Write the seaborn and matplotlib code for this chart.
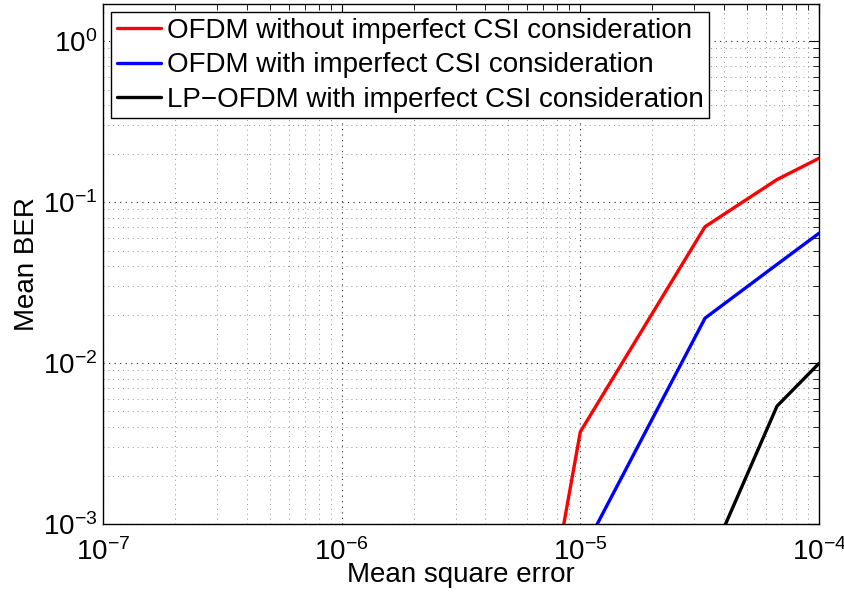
import numpy as np
import pandas as pd
import matplotlib
matplotlib.use("Agg")
import matplotlib.pyplot as plt
import seaborn as sns
from matplotlib.ticker import LogLocator, NullFormatter

# Mean square error of the channel estimate
mse = [1e-6, 1e-5, 3.33e-5, 6.67e-5, 1e-4]

# Mean BER for each scheme
ber_ofdm_no_csi = [2e-11, 3.74e-3, 0.0703, 0.138, 0.187]
ber_ofdm_csi = [1e-12, 6.3e-4, 0.019, 0.041, 0.064]
ber_lpofdm_csi = [1e-12, 1e-12, 5.1e-4, 5.4e-3, 9.95e-3]

labels = [
    "OFDM without imperfect CSI consideration",
    "OFDM with imperfect CSI consideration",
    "LP\u2212OFDM with imperfect CSI consideration",
]
colors = ["#ff0000", "#0000ff", "#000000"]

df = pd.concat([
    pd.DataFrame({"mse": mse, "ber": vals, "scheme": lab})
    for vals, lab in zip([ber_ofdm_no_csi, ber_ofdm_csi, ber_lpofdm_csi], labels)
])

sns.set_style("white")
plt.rcParams["font.family"] = ["Liberation Sans", "DejaVu Sans"]
plt.rcParams["mathtext.fontset"] = "custom"
plt.rcParams["mathtext.rm"] = "Liberation Sans"
plt.rcParams["mathtext.it"] = "Liberation Sans"
plt.rcParams["text.color"] = "black"
plt.rcParams["axes.labelcolor"] = "black"
plt.rcParams["xtick.color"] = "black"
plt.rcParams["ytick.color"] = "black"

fig = plt.figure(figsize=(8.45, 5.98), dpi=100)
ax = fig.add_axes([103 / 845, 1 - 524 / 598, (819 - 103) / 845, (524 - 4) / 598])

sns.lineplot(data=df, x="mse", y="ber", hue="scheme", palette=colors,
             hue_order=labels, linewidth=2.4, ax=ax, sort=False)

ax.set_xscale("log")
ax.set_yscale("log")
ax.set_xlim(1e-7, 1e-4)
ax.set_ylim(1e-3, 1.7)

ax.xaxis.set_major_locator(LogLocator(base=10, numticks=10))
ax.yaxis.set_major_locator(LogLocator(base=10, numticks=10))
ax.xaxis.set_minor_locator(LogLocator(base=10, subs=np.arange(2, 10), numticks=20))
ax.yaxis.set_minor_locator(LogLocator(base=10, subs=np.arange(2, 10), numticks=20))
ax.xaxis.set_minor_formatter(NullFormatter())
ax.yaxis.set_minor_formatter(NullFormatter())

ax.grid(True, which="major", linestyle=(0, (1, 4)), color="#000000", linewidth=0.8, alpha=0.85)
ax.grid(True, which="minor", linestyle=(0, (1, 4)), color="#444444", linewidth=0.7, alpha=0.6)

ax.tick_params(which="both", direction="in", top=True, right=True,
               labelsize=20, color="black")
ax.tick_params(axis="x", which="major", length=7, width=0.8, pad=10)
ax.tick_params(axis="y", which="major", length=7, width=0.8, pad=4)
ax.tick_params(which="minor", length=4, width=0.6)

for sp in ax.spines.values():
    sp.set_color("black")
    sp.set_linewidth(1.0)

ax.set_xlabel("Mean square error", fontsize=20, labelpad=-3)
ax.set_ylabel("Mean BER", fontsize=20, labelpad=2)

leg = ax.legend(loc="upper left", fontsize=20, frameon=True, fancybox=False,
                edgecolor="black", framealpha=1, borderpad=0.2,
                labelspacing=0.3, handlelength=1.6, handletextpad=0.2,
                borderaxespad=0.3)
leg.get_frame().set_linewidth(1.0)
for line in leg.get_lines():
    line.set_linewidth(2.4)

fig.savefig("out.png", dpi=100)
